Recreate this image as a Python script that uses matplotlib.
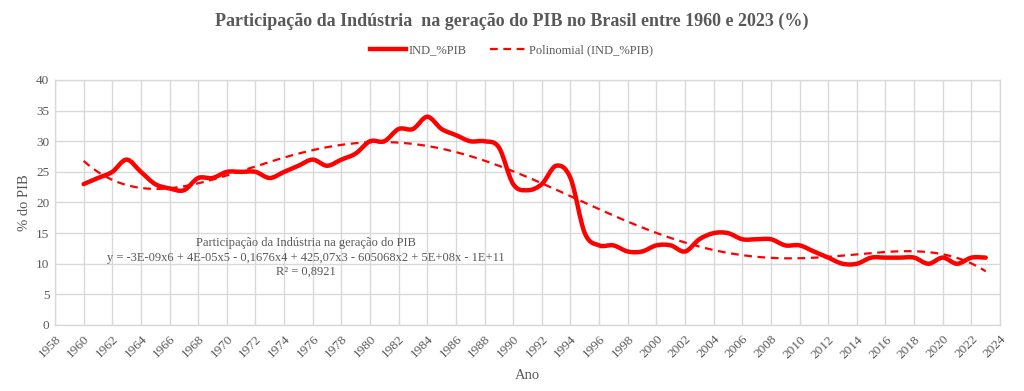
import numpy as np
import matplotlib
matplotlib.use("Agg")
import matplotlib.pyplot as plt
from matplotlib.path import Path
from matplotlib.patches import PathPatch
from matplotlib.lines import Line2D

years = list(range(1960, 2024))
ind_pib = [23, 24, 25, 27, 25, 23, 22.3, 22, 24, 24,
           25, 25, 25, 24, 25, 26, 27, 26, 27, 28,
           30, 30, 32, 32, 34, 32, 31, 30, 30, 29,
           23, 22, 23, 26, 24, 15, 13, 13, 12, 12,
           13, 13, 12, 14, 15, 15, 14, 14, 14, 13,
           13, 12, 11, 10, 10, 11, 11, 11, 11, 10,
           11, 10, 11, 11]
x_ticks = list(range(1958, 2025, 2))
y_ticks = list(range(0, 41, 5))

title = "Participação da Indústria  na geração do PIB no Brasil entre 1960 e 2023 (%)"
eq_lines = ["Participação da Indústria na geração do PIB",
            "y = -3E-09x6 + 4E-05x5 - 0,1676x4 + 425,07x3 - 605068x2 + 5E+08x - 1E+11",
            "R² = 0,8921"]

plt.rcParams['font.family'] = ['Liberation Serif', 'DejaVu Serif']
gray = '#595959'
red = '#ff0000'

fig = plt.figure(figsize=(10.24, 3.91), dpi=100)
ax = fig.add_axes([0.0537, 0.1688, 0.9229, 0.6266])

x = np.array(years, dtype=float)
y = np.array(ind_pib, dtype=float)

# smoothed line (Excel-like Catmull-Rom Bezier)
verts = [(x[0], y[0])]
codes = [Path.MOVETO]
n = len(x)
for i in range(n - 1):
    p0 = np.array([x[i - 1], y[i - 1]]) if i > 0 else np.array([x[i], y[i]])
    p1 = np.array([x[i], y[i]])
    p2 = np.array([x[i + 1], y[i + 1]])
    p3 = np.array([x[i + 2], y[i + 2]]) if i + 2 < n else p2
    c1 = p1 + (p2 - p0) / 6.0
    c2 = p2 - (p3 - p1) / 6.0
    verts += [tuple(c1), tuple(c2), tuple(p2)]
    codes += [Path.CURVE4] * 3
patch = PathPatch(Path(verts, codes), facecolor='none', edgecolor=red,
                  lw=3.2, capstyle='round', joinstyle='round', zorder=4)
ax.add_patch(patch)

# polynomial trend (order 6)
xc = x - x.mean()
coef = np.polyfit(xc, y, 6)
xf = np.linspace(x[0], x[-1], 400)
yf = np.polyval(coef, xf - x.mean())
ax.plot(xf, yf, color=red, lw=1.6, ls=(0, (3.5, 2.5)), zorder=3)

ax.set_xlim(1958, 2024)
ax.set_ylim(0, 40)
ax.set_xticks(x_ticks)
ax.set_yticks(y_ticks)
ax.set_xticklabels([str(t) for t in x_ticks], rotation=45, ha='right',
                   rotation_mode='anchor', fontsize=9.5, color=gray)
ax.set_yticklabels([str(t) for t in y_ticks], fontsize=9.5, color=gray)
ax.tick_params(length=0, pad=4)
ax.tick_params(axis='x', pad=6)
ax.grid(True, color='#d9d9d9', lw=1)
ax.set_axisbelow(True)
for s in ax.spines.values():
    s.set_color('#d9d9d9')
    s.set_linewidth(1)

ax.set_xlabel("Ano", fontsize=10.5, color=gray, labelpad=6)
ax.set_ylabel("% do PIB", fontsize=10.5, color=gray, labelpad=4)

fig.text(0.5, 0.945, title, ha='center', va='center', fontsize=13,
         fontweight='bold', color=gray)

for i, t in enumerate(eq_lines):
    fig.text(0.2985, 0.378 - i * 0.037, t, ha='center', va='center',
             fontsize=9, color=gray)

handles = [Line2D([], [], color=red, lw=3.2),
           Line2D([], [], color=red, lw=1.6, ls=(0, (3.5, 2.5)))]
fig.legend(handles, ["IND_%PIB", "Polinomial (IND_%PIB)"], loc='center',
           bbox_to_anchor=(0.4995, 0.872), ncol=2, frameon=False, fontsize=9,
           labelcolor=gray, handlelength=2.9, columnspacing=1.85, handletextpad=0.25)

fig.savefig("out.png", dpi=100, facecolor='white')
